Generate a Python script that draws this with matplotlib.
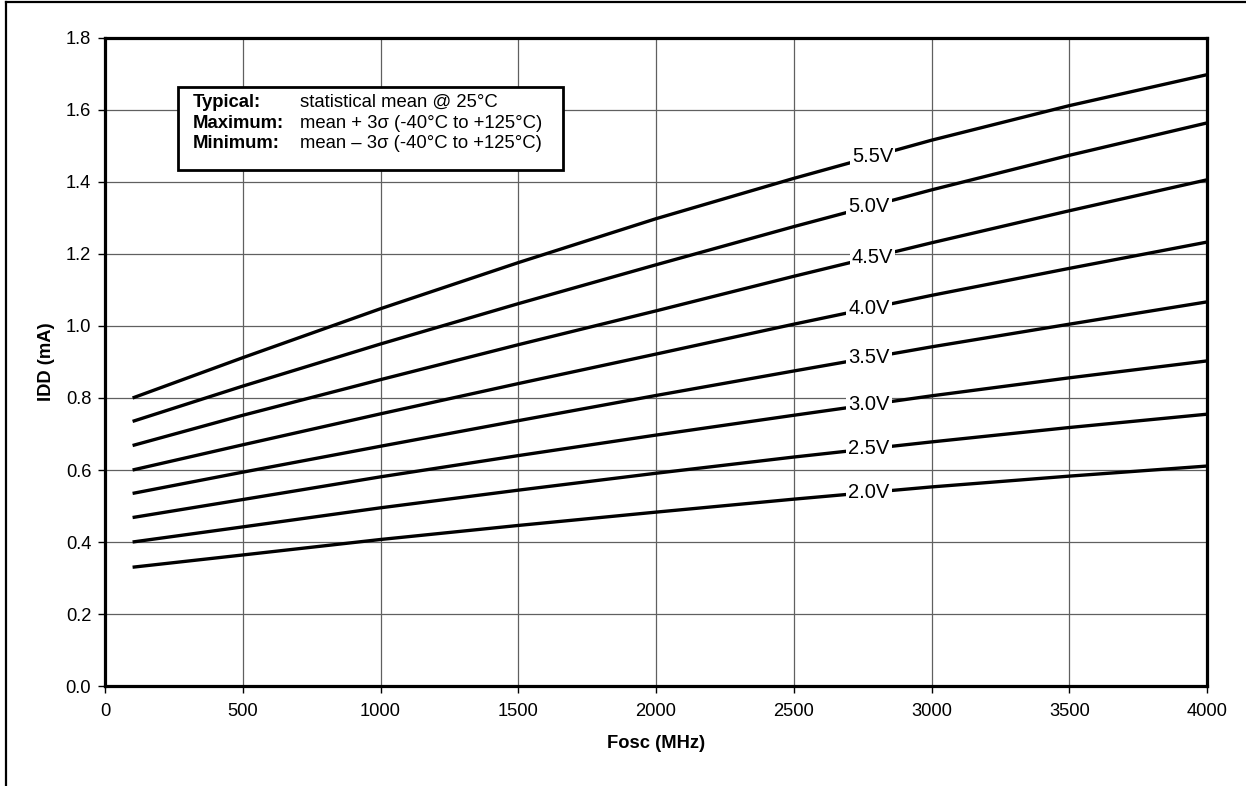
import numpy as np
import matplotlib
matplotlib.use("Agg")
import matplotlib.pyplot as plt
from matplotlib.lines import Line2D
from matplotlib.patches import Rectangle

plt.rcParams["font.family"] = ["Liberation Sans", "DejaVu Sans"]

# Fosc (MHz) sample points
fosc = [100, 500, 1000, 1500, 2000, 2500, 3000, 3500, 4000]

# IDD (mA) for each supply voltage
idd_55 = [0.800, 0.912, 1.048, 1.176, 1.298, 1.410, 1.516, 1.612, 1.698]
idd_50 = [0.735, 0.833, 0.950, 1.062, 1.170, 1.276, 1.378, 1.474, 1.564]
idd_45 = [0.668, 0.752, 0.851, 0.948, 1.042, 1.138, 1.231, 1.320, 1.406]
idd_40 = [0.600, 0.670, 0.756, 0.840, 0.922, 1.005, 1.085, 1.160, 1.233]
idd_35 = [0.535, 0.594, 0.666, 0.737, 0.807, 0.875, 0.942, 1.005, 1.067]
idd_30 = [0.468, 0.518, 0.581, 0.640, 0.697, 0.752, 0.806, 0.856, 0.903]
idd_25 = [0.400, 0.442, 0.495, 0.544, 0.591, 0.636, 0.678, 0.718, 0.755]
idd_20 = [0.330, 0.364, 0.407, 0.446, 0.483, 0.519, 0.553, 0.583, 0.611]

series = [idd_55, idd_50, idd_45, idd_40, idd_35, idd_30, idd_25, idd_20]
labels = ["5.5V", "5.0V", "4.5V", "4.0V", "3.5V", "3.0V", "2.5V", "2.0V"]
label_x = [2786, 2773, 2786, 2773, 2773, 2773, 2773, 2773]

x_ticks = [0, 500, 1000, 1500, 2000, 2500, 3000, 3500, 4000]
y_ticks = [0.0, 0.2, 0.4, 0.6, 0.8, 1.0, 1.2, 1.4, 1.6, 1.8]

fig = plt.figure(figsize=(12.46, 7.86), dpi=100)
ax = fig.add_axes([0.0843, 0.1272, 0.8844, 0.8245])

for y, lab, lx in zip(series, labels, label_x):
    ax.plot(fosc, y, color="black", lw=2.4, solid_capstyle="butt",
            solid_joinstyle="round", zorder=3)
    ly = np.interp(lx, fosc, y)
    ax.text(lx, ly, lab, fontsize=14.5, ha="center", va="center", zorder=4,
            bbox=dict(boxstyle="square,pad=0.1", fc="white", ec="none"))

ax.set_xlim(0, 4000)
ax.set_ylim(0, 1.8)
ax.set_xticks(x_ticks)
ax.set_yticks(y_ticks)
ax.set_yticklabels([f"{v:.1f}" for v in y_ticks])
ax.tick_params(direction="out", length=5, width=1, labelsize=13.2)
ax.tick_params(axis="x", pad=7)
ax.tick_params(axis="y", pad=5)
ax.grid(True, color="#606060", lw=0.9)
ax.set_axisbelow(True)
for sp in ax.spines.values():
    sp.set_linewidth(2.3)
    sp.set_zorder(5)

ax.set_xlabel("Fosc (MHz)", fontsize=13.2, fontweight="bold", labelpad=11)
fig.text(0.037, 0.54, "IDD (mA)", rotation=90, fontsize=13.2,
         fontweight="bold", ha="center", va="center")

# condition box
ax.add_patch(Rectangle((0.0662, 0.796), 0.3494, 0.128, transform=ax.transAxes,
                       fc="white", ec="black", lw=2, zorder=6))
rows = [("Typical:", "statistical mean @ 25°C"),
        ("Maximum:", "mean + 3σ (-40°C to +125°C)"),
        ("Minimum:", "mean – 3σ (-40°C to +125°C)")]
for i, (k, v) in enumerate(rows):
    yy = 0.900 - i * 0.0315
    ax.text(0.0799, yy, k, transform=ax.transAxes, fontsize=13.3,
            fontweight="bold", va="center", zorder=7)
    ax.text(0.177, yy, v, transform=ax.transAxes, fontsize=13.3,
            va="center", zorder=7)

# page frame (top and left only)
fig.add_artist(Line2D([6 / 1246, 6 / 1246], [0, 1 - 2 / 786],
                      transform=fig.transFigure, color="black", lw=1.6))
fig.add_artist(Line2D([6 / 1246, 1], [1 - 2 / 786, 1 - 2 / 786],
                      transform=fig.transFigure, color="black", lw=1.6))

fig.savefig("out.png", dpi=100)
